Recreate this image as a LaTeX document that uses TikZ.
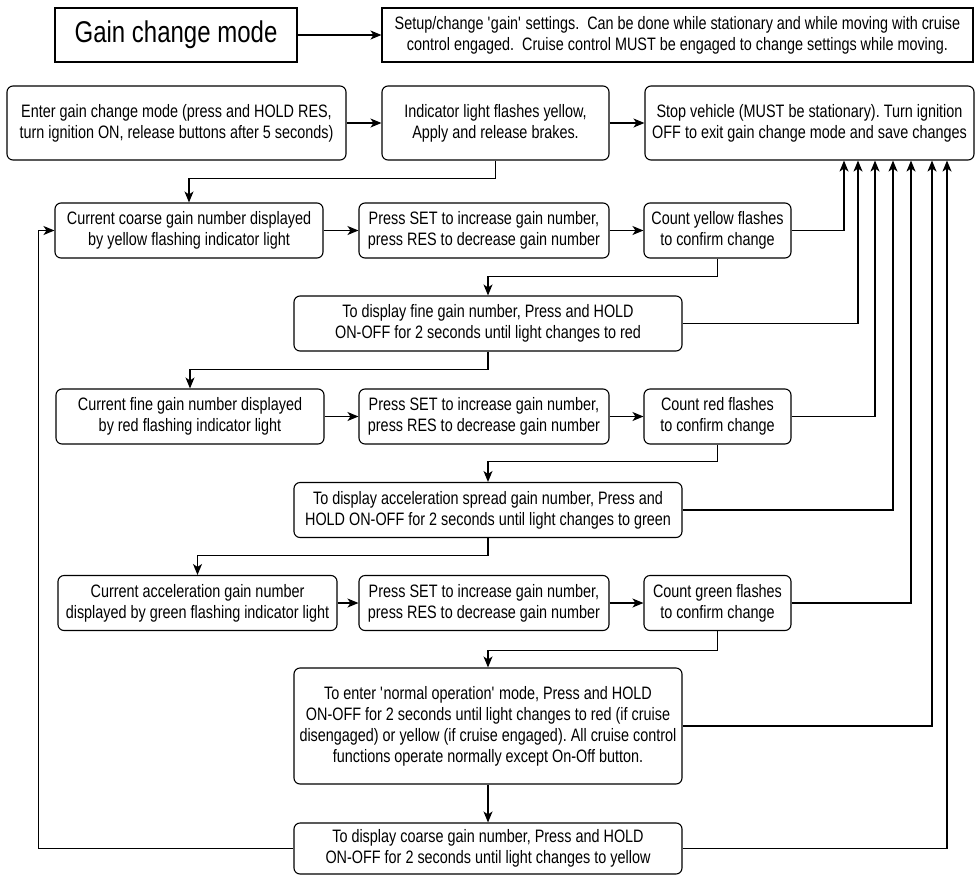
\documentclass[tikz,border=0pt]{standalone}
\usepackage{fontspec}
\setmainfont{Liberation Sans}[FakeStretch=0.8]
\usetikzlibrary{arrows.meta}
\frenchspacing

\begin{document}
\begin{tikzpicture}[x=1pt,y=-1pt]
\tikzset{
	box/.style={draw=black, line width=1.1pt, rounded corners=6pt, inner sep=0pt, align=center, font=\fontsize{18}{21}\selectfont},
	flat/.style={box, rounded corners=0pt},
	arr/.style={line width=1.1pt, -{Stealth[length=11pt,width=9pt,inset=3pt]}}
}
\useasboundingbox (0,0) rectangle (975,876);

% top line
\node[flat, minimum width=242, minimum height=54, font=\fontsize{30}{34}\selectfont] (gain) at (176,35) {Gain change mode};
\node[flat, minimum width=591, minimum height=54] (setup) at (677.5,35) {Setup/change \textquotesingle gain\textquotesingle{} settings.\ \ Can be done while stationary and while moving with cruise\\control engaged.\ \ Cruise control MUST be engaged to change settings while moving.};

% enter / indicator / stop
\node[box, minimum width=339, minimum height=74] (enter) at (176.5,123) {Enter gain change mode (press and HOLD RES,\\turn ignition ON, release buttons after 5 seconds)};
\node[box, minimum width=227, minimum height=74] (indic) at (495.5,123) {Indicator light flashes yellow,\\Apply and release brakes.};
\node[box, minimum width=329, minimum height=74] (stop) at (809.5,123) {Stop vehicle (MUST be stationary). Turn ignition\\OFF to exit gain change mode and save changes};

% coarse gain
\node[box, minimum width=268, minimum height=55] (coarse) at (189,230.5) {Current coarse gain number displayed\\by yellow flashing indicator light};
\node[box, minimum width=250, minimum height=55] (setA) at (484,230.5) {Press SET to increase gain number,\\press RES to decrease gain number};
\node[box, minimum width=147, minimum height=55] (cntY) at (717.5,230.5) {Count yellow flashes\\to confirm change};
\node[box, minimum width=388, minimum height=55] (fineD) at (488,323.5) {To display fine gain number, Press and HOLD\\ON-OFF for 2 seconds until light changes to red};

% fine gain
\node[box, minimum width=268, minimum height=55] (fine) at (190,416.5) {Current fine gain number displayed\\by red flashing indicator light};
\node[box, minimum width=250, minimum height=55] (setB) at (484,416.5) {Press SET to increase gain number,\\press RES to decrease gain number};
\node[box, minimum width=147, minimum height=55] (cntR) at (717.5,416.5) {Count red flashes\\to confirm change};
\node[box, minimum width=388, minimum height=55] (accD) at (488,510) {To display acceleration spread gain number, Press and\\HOLD ON-OFF for 2 seconds until light changes to green};

% acceleration gain
\node[box, minimum width=279, minimum height=55] (accel) at (197.5,603) {Current acceleration gain number\\displayed by green flashing indicator light};
\node[box, minimum width=250, minimum height=55] (setC) at (484,603) {Press SET to increase gain number,\\press RES to decrease gain number};
\node[box, minimum width=147, minimum height=55] (cntG) at (717.5,603) {Count green flashes\\to confirm change};

% normal operation / back to coarse
\node[box, minimum width=388, minimum height=116] (normal) at (488,726) {To enter \textquotesingle normal operation\textquotesingle{} mode, Press and HOLD\\ON-OFF for 2 seconds until light changes to red (if cruise\\disengaged) or yellow (if cruise engaged). All cruise control\\functions operate normally except On-Off button.};
\node[box, minimum width=388, minimum height=51] (coarseD) at (488,848.5) {To display coarse gain number, Press and HOLD\\ON-OFF for 2 seconds until light changes to yellow};

% arrows along the rows
\draw[arr] (gain) -- (setup);
\draw[arr] (enter) -- (indic);
\draw[arr] (indic) -- (stop);
\draw[arr] (coarse) -- (setA);
\draw[arr] (setA) -- (cntY);
\draw[arr] (fine) -- (setB);
\draw[arr] (setB) -- (cntR);
\draw[arr] (accel) -- (setC);
\draw[arr] (setC) -- (cntG);

% arrows down to the next row
\draw[arr] (indic.south) -- ++(0,18) -| (coarse.north);
\draw[arr] (cntY.south) -- ++(0,18) -| (fineD.north);
\draw[arr] (fineD.south) -- ++(0,18) -| (fine.north);
\draw[arr] (cntR.south) -- ++(0,17) -| (accD.north);
\draw[arr] (accD.south) -- ++(0,17) -| (accel.north);
\draw[arr] (cntG.south) -- ++(0,19) -| (normal.north);
\draw[arr] (normal) -- (coarseD);

% back to coarse gain
\draw[arr] (coarseD.west) -- ++(-255,0) |- (coarse.west);

% up to stop vehicle
\draw[arr] (cntY.east) -| ([xshift=34.5]stop.south);
\draw[arr] (fineD.east) -| ([xshift=48.5]stop.south);
\draw[arr] (cntR.east) -| ([xshift=65.5]stop.south);
\draw[arr] (accD.east) -| ([xshift=83.5]stop.south);
\draw[arr] (cntG.east) -| ([xshift=101.5]stop.south);
\draw[arr] (normal.east) -| ([xshift=122.5]stop.south);
\draw[arr] (coarseD.east) -| ([xshift=137.5]stop.south);

\end{tikzpicture}
\end{document}
